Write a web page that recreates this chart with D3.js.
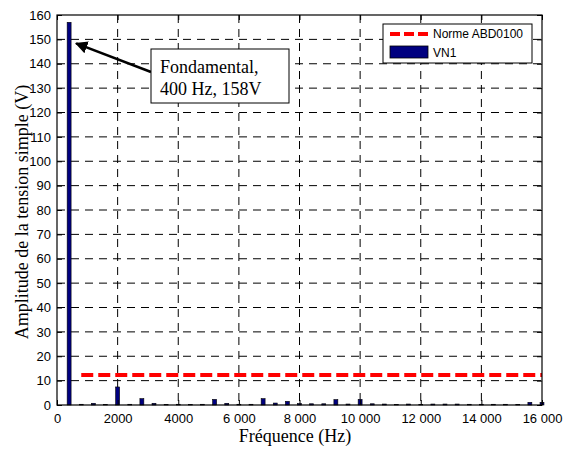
<!DOCTYPE html>
<html><head><meta charset="utf-8">
<script src="https://cdn.jsdelivr.net/npm/d3@7"></script>
<style>body{margin:0;background:#fff}svg{display:block}</style>
</head><body><svg id="c" width="568" height="450"></svg>
<script>
const freqs = [400,800,1200,1600,2000,2400,2800,3200,3600,4000,4400,4800,5200,5600,6000,6400,6800,7200,7600,8000,8400,8800,9200,9600,10000,10400,10800,11200,11600,12000,12400,12800,13200,13600,14000,14400,14800,15200,15600,16000];
const vn1 = [157,0.3,0.7,0.2,7.4,0.3,2.6,0.7,0.2,0.3,0.2,0.3,2.3,0.7,0.3,0.3,2.6,0.8,1.5,0.6,0.5,0.5,2.2,0.4,2.3,0.5,0.4,0.2,0.4,0.2,0.4,0.4,0.4,0.3,0.3,0.3,0.3,0.2,1.1,1.1];
const normeFreq = [800,16000];
const normeVal = [12.3,12.3];
const xTicks = [0,2000,4000,6000,8000,10000,12000,14000,16000];
const xTickLabels = ["0","2000","4000","6 000","8 000","10 000","12 000","14 000","16 000"];
const yTicks = [0,10,20,30,40,50,60,70,80,90,100,110,120,130,140,150,160];
const legendLabels = ["Norme ABD0100","VN1"];
const annotation = ["Fondamental,","400 Hz, 158V"];

const svg = d3.select("#c");
const L=57,R=542,T=15,B=405;
const x = d3.scaleLinear().domain([0,16000]).range([L,R]);
const y = d3.scaleLinear().domain([0,160]).range([B,T]);
const sans = "Liberation Sans, Arial, sans-serif";
const serif = "Liberation Serif, Times New Roman, serif";

// grid
const g = svg.append("g");
g.selectAll(".gx").data(xTicks.slice(1,-1)).enter().append("line")
 .attr("x1",d=>x(d)).attr("x2",d=>x(d)).attr("y1",T).attr("y2",B)
 .attr("stroke","#000").attr("stroke-width",1).attr("stroke-dasharray","8,6");
g.selectAll(".gy").data(yTicks.slice(1,-1)).enter().append("line")
 .attr("y1",d=>y(d)).attr("y2",d=>y(d)).attr("x1",L).attr("x2",R)
 .attr("stroke","#000").attr("stroke-width",1).attr("stroke-dasharray","8,6");

// bars
const hw = (x(65)-x(0));
svg.selectAll(".bar").data(freqs).enter().append("rect")
 .attr("x",(d)=>x(d)-hw).attr("width",2*hw)
 .attr("y",(d,i)=>y(vn1[i])).attr("height",(d,i)=>B-y(vn1[i]))
 .attr("fill","#000080").attr("stroke","#000").attr("stroke-width",0.6);

// norme line
svg.append("path")
 .attr("d",d3.line().x(d=>x(d[0])).y(d=>y(d[1]))(normeFreq.map((f,i)=>[f,normeVal[i]])))
 .attr("stroke","#ff0000").attr("stroke-width",4).attr("stroke-dasharray","12,5").attr("fill","none");

// axes
const ax = svg.append("g").attr("transform",`translate(0,${B})`)
 .call(d3.axisBottom(x).tickValues(xTicks).tickFormat((d,i)=>xTickLabels[i]).tickSizeInner(-5).tickSizeOuter(0).tickPadding(9));
const ay = svg.append("g").attr("transform",`translate(${L},0)`)
 .call(d3.axisLeft(y).tickValues(yTicks).tickSizeInner(-5).tickSizeOuter(0).tickPadding(6));
const axt = svg.append("g").attr("transform",`translate(0,${T})`)
 .call(d3.axisTop(x).tickValues(xTicks).tickFormat("").tickSizeInner(-5).tickSizeOuter(0));
const ayr = svg.append("g").attr("transform",`translate(${R},0)`)
 .call(d3.axisRight(y).tickValues(yTicks).tickFormat("").tickSizeInner(-5).tickSizeOuter(0));
[ax,ay,axt,ayr].forEach(a=>{a.select(".domain").remove();a.selectAll("line").attr("stroke","#000");
 a.selectAll("text").attr("font-family",sans).attr("font-size",13).attr("fill","#000");});
svg.append("rect").attr("x",L).attr("y",T).attr("width",R-L).attr("height",B-T)
 .attr("fill","none").attr("stroke","#000").attr("stroke-width",1.2);

// titles
svg.append("text").attr("x",295).attr("y",442).attr("text-anchor","middle")
 .attr("font-family",serif).attr("font-size",18).text("Fréquence (Hz)");
svg.append("text").attr("transform",`translate(28,212) rotate(-90)`).attr("text-anchor","middle")
 .attr("font-family",serif).attr("font-size",18).text("Amplitude de la tension simple (V)");

// legend
const lg = svg.append("g");
lg.append("rect").attr("x",383).attr("y",24).attr("width",149).attr("height",39)
 .attr("fill","#fff").attr("stroke","#000").attr("stroke-width",1);
lg.append("line").attr("x1",390).attr("x2",429).attr("y1",34).attr("y2",34)
 .attr("stroke","#ff0000").attr("stroke-width",4).attr("stroke-dasharray","10,4");
lg.append("rect").attr("x",390).attr("y",46).attr("width",38).attr("height",12)
 .attr("fill","#000080").attr("stroke","#000").attr("stroke-width",0.8);
lg.selectAll(".lt").data(legendLabels).enter().append("text")
 .attr("x",433).attr("y",(d,i)=>38+i*19).attr("font-family",sans).attr("font-size",12).text(d=>d);

// annotation
svg.append("defs").append("marker").attr("id","ah").attr("viewBox","0 0 10 10").attr("refX",9).attr("refY",5)
 .attr("markerWidth",5).attr("markerHeight",5).attr("orient","auto")
 .append("path").attr("d","M0,0 L10,5 L0,10 z").attr("fill","#000");
svg.append("line").attr("x1",151).attr("y1",72).attr("x2",x(400)+7).attr("y2",y(150)+4)
 .attr("stroke","#000").attr("stroke-width",2.5).attr("marker-end","url(#ah)");
svg.append("rect").attr("x",151).attr("y",49).attr("width",138).attr("height",54)
 .attr("fill","#fff").attr("stroke","#000").attr("stroke-width",1);
svg.selectAll(".an").data(annotation).enter().append("text")
 .attr("x",160).attr("y",(d,i)=>73+i*22).attr("font-family",serif).attr("font-size",18).text(d=>d);
</script></body></html>
